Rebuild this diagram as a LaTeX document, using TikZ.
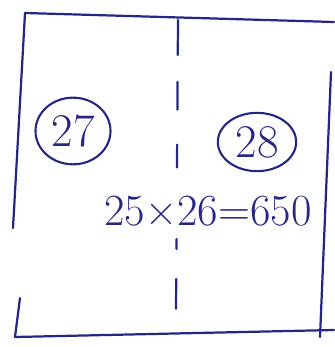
\documentclass[tikz,border=0pt]{standalone}
\usepackage{fontspec}
\usetikzlibrary{shapes.geometric}
\definecolor{inkblue}{RGB}{38,38,135}

\begin{document}
\begin{tikzpicture}[
x=0.03cm, y=-0.03cm,
ink/.style={draw=inkblue,line width=1.9pt,line cap=round},
plot/.style={ellipse,draw=inkblue,line width=1.8pt,text=inkblue,
  font=\fontsize{40}{44}\selectfont,inner sep=0pt},
area/.style={text=inkblue,font=\fontsize{38}{42}\selectfont,inner sep=0pt},
divide/.style={ink,dash pattern=on 29.8pt off 23pt on 23.8pt off 29.8pt on 19.6pt off 61pt on 8.5pt off 25.5pt on 25.5pt} ]

\useasboundingbox (0,0) rectangle (334,347);

% corners of the plot
\coordinate (TL) at (25,13);
\coordinate (TR) at (334,22);
\coordinate (BL) at (15,337);
\coordinate (BR) at (334,330);
\coordinate (L1) at (13,228);
\coordinate (L2) at (20,298);
\coordinate (R1) at (331,72);
\coordinate (R2) at (320,337);
\coordinate (MT) at (178,20);
\coordinate (MB) at (176,310);

\draw[ink] (TL) -- (TR);
\draw[ink] (TL) -- (L1);
\draw[ink] (L2) -- (BL);
\draw[ink] (BL) -- (BR);
\draw[ink] (R1) -- (R2);
\draw[divide] (MT) -- (MB);

\node[plot,minimum width=2.25cm,minimum height=2.0cm](P27) at (73,131) {27};
\node[plot,minimum width=2.35cm,minimum height=1.75cm](P28) at (257,142) {28};

\node[area](calc) at (208,211) {25×26=650};
\end{tikzpicture}
\end{document}
